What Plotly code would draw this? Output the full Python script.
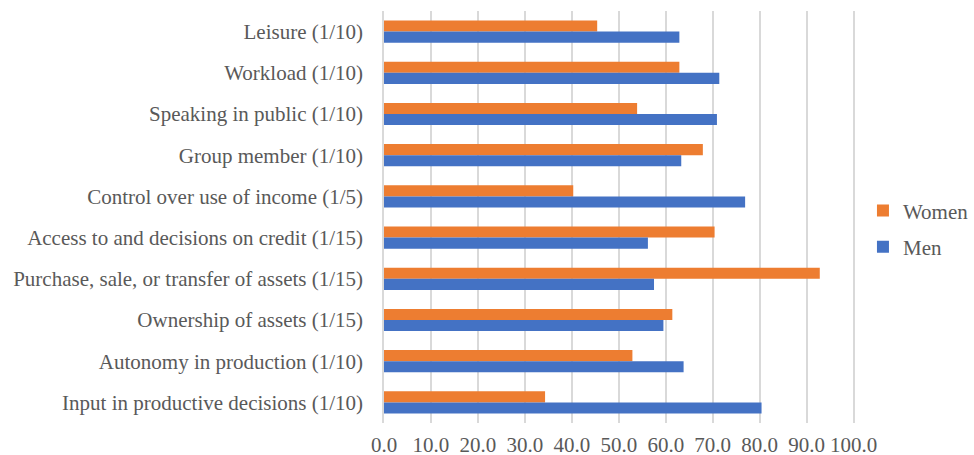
import plotly.graph_objects as go

categories = [
    "Leisure (1/10)",
    "Workload (1/10)",
    "Speaking in public (1/10)",
    "Group member (1/10)",
    "Control over use of income (1/5)",
    "Access to and decisions on credit (1/15)",
    "Purchase, sale, or transfer of assets (1/15)",
    "Ownership of assets (1/15)",
    "Autonomy in production (1/10)",
    "Input in productive decisions (1/10)",
]
women = [45.4, 62.9, 53.9, 67.9, 40.3, 70.4, 92.8, 61.4, 52.9, 34.3]
men = [62.9, 71.4, 70.9, 63.3, 76.9, 56.2, 57.5, 59.5, 63.8, 80.4]
x_ticks = [0, 10, 20, 30, 40, 50, 60, 70, 80, 90, 100]

FONT = "Liberation Serif"
GREY = "#595959"
SIZE = 21

fig = go.Figure()
fig.add_trace(go.Bar(
    y=categories, x=women, name="Women", orientation="h",
    marker=dict(color="#ED7D31", line=dict(width=0)), legendgroup="w",
))
fig.add_trace(go.Bar(
    y=categories, x=men, name="Men", orientation="h",
    marker=dict(color="#4472C4", line=dict(width=0)), legendgroup="m",
))

fig.update_layout(
    width=974, height=455,
    margin=dict(l=384, r=119, t=11, b=32),
    paper_bgcolor="white", plot_bgcolor="white",
    barmode="group", bargap=0.46, bargroupgap=0,
    font=dict(family=FONT, size=SIZE, color=GREY),
    legend=dict(
        xref="container", yref="container",
        x=0.886, y=0.497, xanchor="left", yanchor="middle",
        traceorder="grouped", tracegroupgap=6,
        font=dict(family=FONT, size=SIZE, color=GREY),
        itemwidth=30,
    ),
    xaxis=dict(
        range=[0, 100.3], tickvals=x_ticks,
        ticktext=[f"{v:.1f}" for v in x_ticks],
        showgrid=True, gridcolor="#D9D9D9", gridwidth=1.5,
        zeroline=False, showline=False,
        ticks="outside", ticklen=3, tickcolor="rgba(0,0,0,0)",
        tickfont=dict(family=FONT, size=SIZE, color=GREY),
        automargin=False, fixedrange=True,
    ),
    yaxis=dict(
        autorange="reversed", showgrid=False, zeroline=False,
        showline=True, linecolor="#D9D9D9", linewidth=1.5,
        ticks="outside", ticklen=15, tickcolor="rgba(0,0,0,0)",
        tickfont=dict(family=FONT, size=SIZE, color=GREY),
        automargin=False, fixedrange=True,
    ),
)

fig.write_html("out.html")
